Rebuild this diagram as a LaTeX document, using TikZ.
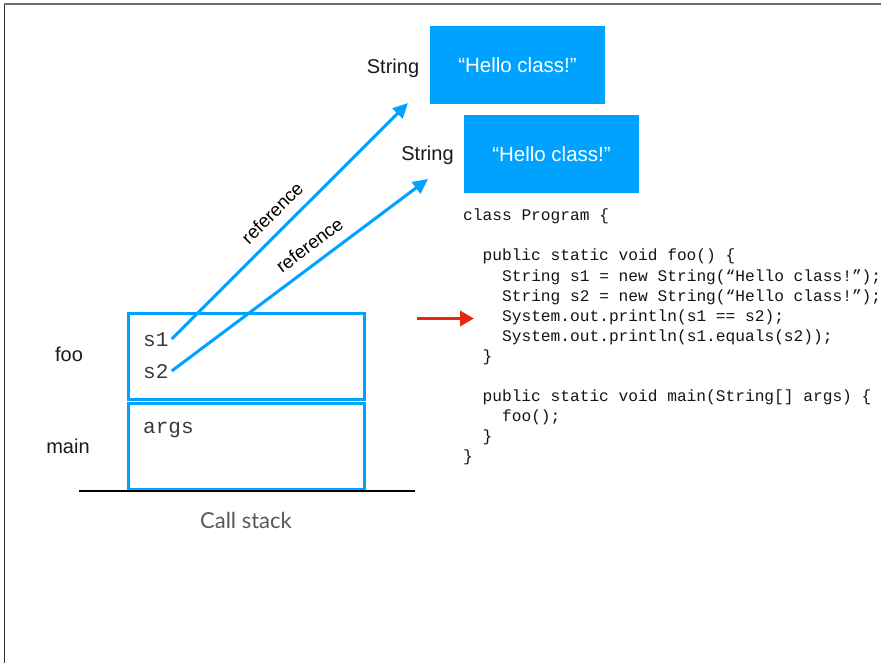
\documentclass[tikz,border=0pt]{standalone}
\usepackage{fontspec}
\setmainfont{Liberation Sans}
\setmonofont{Liberation Mono}
\newfontfamily\stackfont{Lato}
\usetikzlibrary{arrows.meta}
\definecolor{refblue}{RGB}{0,162,255}
\definecolor{pcred}{RGB}{232,36,18}
\definecolor{varink}{RGB}{58,58,58}
\definecolor{edgegray}{RGB}{110,110,110}
\definecolor{edgedark}{RGB}{50,50,50}
\tikzset{
  strbox/.style={fill=refblue, text=white, minimum width=175pt, minimum height=78pt,
    inner sep=0pt, font=\fontsize{20.5}{23}\selectfont},
  typelbl/.style={text=black!90, inner sep=0pt, anchor=base, font=\fontsize{20}{22}\selectfont},
  framebox/.style={draw=refblue, line width=3pt, minimum width=236pt, minimum height=86pt, inner sep=0pt},
  framelbl/.style={text=black!90, inner sep=0pt, anchor=base, font=\fontsize{20}{22}\selectfont},
  varname/.style={text=varink, inner sep=0pt, anchor=base west, font=\fontsize{21}{24}\ttfamily},
  refarrow/.style={draw=refblue, line width=3pt, -{Triangle[length=15pt,width=14pt]}},
  reflbl/.style={sloped, above=10pt, inner sep=0pt, text=black, font=\fontsize{18.5}{20}\selectfont},
  codeline/.style={inner sep=0pt, anchor=base west, text=black!92, font=\fontsize{16.2}{20}\ttfamily},
  pcarrow/.style={draw=pcred, line width=3.5pt, -{Triangle[length=14pt,width=15pt]}}
}
\begin{document}
\begin{tikzpicture}[x=1pt,y=-1pt]
\useasboundingbox (0,0) rectangle (881,663);

% slide frame
\draw[edgedark, line width=1.6pt] (4.5,663) -- (4.5,4);
\draw[edgegray, line width=2pt] (3.7,4) -- (881,4);

% heap objects
\node[strbox] (hello1) at (517.5,65.5) {“Hello class!”};
\node[strbox] (hello2) at (551.5,154) {“Hello class!”};
\node[typelbl] (type1) at (393,74) {String};
\node[typelbl] (type2) at (427.5,161) {String};

% call stack frames
\node[framebox] (foobox) at (246,356) {};
\node[framebox] (mainbox) at (246,446) {};
\coordinate (ground1) at (79,491);
\coordinate (ground2) at (415,491);
\draw[black, line width=2.5pt] (ground1) -- (ground2);
\node[framelbl] (foolbl) at (69,361) {foo};
\node[framelbl] (mainlbl) at (68,453) {main};
\node[inner sep=0pt, anchor=base, text=black!65, font=\stackfont\fontsize{22}{24}\selectfont] (stacklbl) at (246,528) {Call stack};

% local variables
\node[varname] (s1) at (143,346) {s1};
\node[varname] (s2) at (143,378) {s2};
\node[varname] (args) at (143,433) {args};

% references from the locals to the heap objects
\coordinate (s1ref) at (171.7,339);
\coordinate (s2ref) at (171.7,371);
\coordinate (tip1) at (408,103);
\coordinate (tip2) at (428,179);
\draw[refarrow] (s1ref) -- node[reflbl, pos=0.48] {reference} (tip1);
\draw[refarrow] (s2ref) -- node[reflbl, pos=0.58] {reference} (tip2);

% source code
\node[codeline] (c1) at (463,221) {class Program \{};
\node[codeline] (c2) at (482.4,261) {public static void foo() \{};
\node[codeline] (c3) at (501.9,281) {String s1 = new String(“Hello class!”);};
\node[codeline] (c4) at (501.9,301) {String s2 = new String(“Hello class!”);};
\node[codeline] (c5) at (501.9,321) {System.out.println(s1 == s2);};
\node[codeline] (c6) at (501.9,341) {System.out.println(s1.equals(s2));};
\node[codeline] (c7) at (482.4,361) {\}};
\node[codeline] (c8) at (482.4,401) {public static void main(String[] args) \{};
\node[codeline] (c9) at (501.9,421) {foo();};
\node[codeline] (c10) at (482.4,441) {\}};
\node[codeline] (c11) at (463,461) {\}};

% current line marker
\coordinate (pcstart) at (417,318.5);
\coordinate (pcend) at (474,318.5);
\draw[pcarrow] (pcstart) -- (pcend);
\end{tikzpicture}
\end{document}
